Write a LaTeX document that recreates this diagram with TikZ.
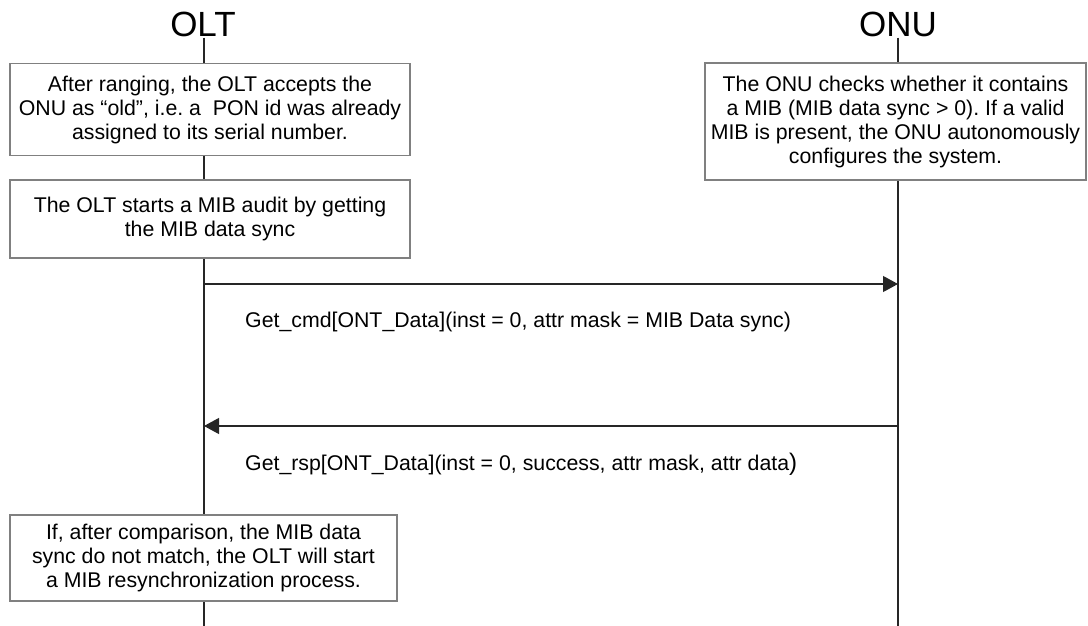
\documentclass[tikz,border=0pt]{standalone}
\usepackage{fontspec}
\setmainfont{Liberation Sans}
\usetikzlibrary{arrows.meta,positioning}
\frenchspacing
\tikzset{
  ttl/.style={font=\fontsize{35}{38}\selectfont,inner sep=0pt,anchor=base},
  life/.style={line width=1.2pt,draw=black!85},
  box/.style={draw=black!50,line width=1.6pt,fill=white,align=center,inner sep=0pt,
    font=\fontsize{21.3}{24}\selectfont},
  msg/.style={line width=1.2pt,draw=black!85,-{Triangle[length=15pt,width=16pt]}},
  lab/.style={anchor=west,inner sep=0pt,font=\fontsize{21.3}{24}\selectfont},
}
\begin{document}
\begin{tikzpicture}[x=1pt,y=-1pt]
  \useasboundingbox (0,0) rectangle (1088,626);
  \node[ttl] (olt) at (203,37) {OLT};
  \node[ttl] (onu) at (898,37) {ONU};
  \coordinate (oltend) at (204,626);
  \coordinate (onuend) at (898,626);
  \draw[life] (olt.south -| oltend) -- (oltend);
  \draw[life] (onu.south) -- (onuend);

  \node[box,minimum width=400pt,minimum height=92pt] (ranged) at (210,109.5)
    {After ranging, the OLT accepts the\\ONU as “old”, i.e. a\ \ PON id was already\\assigned to its serial number.};
  \node[box,minimum width=400pt,minimum height=78pt] (audit) at (210,219)
    {The OLT starts a MIB audit by getting\\the MIB data sync};
  \node[box,minimum width=381pt,minimum height=117pt] (checks) at (895.5,121.5)
    {The ONU checks whether it contains\\a MIB (MIB data sync > 0). If a valid\\MIB is present, the ONU autonomously\\configures the system.};
  \node[box,minimum width=387pt,minimum height=86pt] (resync) at (203.5,558)
    {If, after comparison, the MIB data\\sync do not match, the OLT will start\\a MIB resynchronization process.};

  \coordinate (cmdA) at (204,284);
  \coordinate (cmdB) at (898,284);
  \coordinate (rspA) at (898,426);
  \coordinate (rspB) at (204,426);
  \draw[msg] (cmdA) -- (cmdB);
  \draw[msg] (rspA) -- (rspB);
  \node[lab] (cmdlab) at (245,322) {Get\_cmd[ONT\_Data](inst = 0, attr mask = MIB Data sync)};
  \node[lab] (rsplab) at (245,464) {Get\_rsp[ONT\_Data](inst = 0, success, attr mask, attr data{\fontsize{24}{24}\selectfont)}};
\end{tikzpicture}
\end{document}
